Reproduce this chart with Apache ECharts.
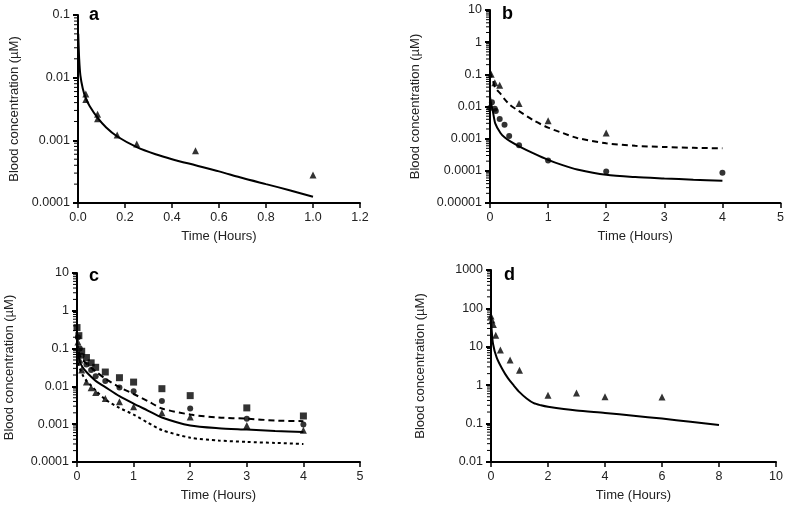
<!DOCTYPE html>
<html><head><meta charset="utf-8">
<script src="https://cdn.jsdelivr.net/npm/echarts@6/dist/echarts.min.js"></script>
<style>html,body{margin:0;padding:0;background:#fff}#c{width:787px;height:505px}</style>
</head><body><div id="c"></div>
<script>
// Panel a
const aObsT = [0.0333, 0.0333, 0.0833, 0.0833, 0.1667, 0.25, 0.5, 1.0];
const aObsC = [0.0055, 0.0045, 0.0026, 0.0022, 0.00122, 0.00087, 0.00068, 0.00028];
const aFitT = [0.001, 0.005, 0.01, 0.02, 0.033, 0.05, 0.083, 0.12, 0.167, 0.25, 0.33, 0.4, 0.5, 0.6, 0.7, 0.8, 0.9, 1.0];
const aFitC = [0.05, 0.02, 0.011, 0.0068, 0.0047, 0.0035, 0.0023, 0.0016, 0.00115, 0.00078, 0.0006, 0.0005, 0.0004, 0.00032, 0.00025, 0.0002, 0.00016, 0.000126];
// Panel b
const bTriT = [0.02, 0.083, 0.167, 0.5, 1, 2];
const bTriC = [0.1, 0.055, 0.046, 0.0125, 0.0036, 0.0015];
const bCirT = [0.0, 0.033, 0.083, 0.1, 0.167, 0.25, 0.33, 0.5, 1, 2, 4];
const bCirC = [0.009, 0.0135, 0.0085, 0.0072, 0.0041, 0.0027, 0.0012, 0.00062, 0.00021, 0.000095, 0.000087];
const bFitT = [0.0, 0.02, 0.05, 0.09, 0.18, 0.25, 0.35, 0.5, 0.75, 1, 1.25, 1.5, 2, 2.5, 3, 3.5, 4];
const bDashC = [0.12, 0.09, 0.065, 0.038, 0.025, 0.017, 0.011, 0.0072, 0.0037, 0.0022, 0.0015, 0.00105, 0.00072, 0.0006, 0.00055, 0.00052, 0.0005];
const bSolC = [0.02, 0.012, 0.007, 0.003, 0.0015, 0.0011, 0.00082, 0.00058, 0.00035, 0.00022, 0.00015, 0.00011, 0.000075, 0.000064, 0.000058, 0.000053, 0.000049];
// Panel c
const cSqT = [0.0, 0.033, 0.083, 0.167, 0.25, 0.33, 0.5, 0.75, 1, 1.5, 2, 3, 4];
const cSqC = [0.36, 0.22, 0.085, 0.058, 0.042, 0.032, 0.024, 0.017, 0.013, 0.0087, 0.0057, 0.0027, 0.00165];
const cCirT = [0.017, 0.05, 0.083, 0.167, 0.25, 0.33, 0.5, 0.75, 1, 1.5, 2, 3, 4];
const cCirC = [0.2, 0.1, 0.065, 0.038, 0.027, 0.0185, 0.014, 0.0093, 0.0074, 0.0041, 0.0026, 0.0014, 0.00098];
const cTriT = [0.017, 0.05, 0.083, 0.167, 0.25, 0.33, 0.5, 0.75, 1, 1.5, 2, 3, 4];
const cTriC = [0.15, 0.05, 0.027, 0.013, 0.0092, 0.0069, 0.0048, 0.0039, 0.0029, 0.002, 0.00155, 0.00093, 0.00069];
const cFitT = [0.0, 0.05, 0.1, 0.167, 0.25, 0.33, 0.5, 0.75, 1, 1.25, 1.5, 2, 2.5, 3, 3.5, 4];
const cDashC = [0.15, 0.065, 0.05, 0.04, 0.031, 0.025, 0.016, 0.0095, 0.0063, 0.0041, 0.0026, 0.0018, 0.0015, 0.0014, 0.00125, 0.0012];
const cSolC = [0.1, 0.045, 0.032, 0.024, 0.018, 0.014, 0.0096, 0.0055, 0.0035, 0.0023, 0.0015, 0.00092, 0.00078, 0.00072, 0.00066, 0.00062];
const cDotC = [0.06, 0.03, 0.02, 0.014, 0.0105, 0.0078, 0.0045, 0.0027, 0.0018, 0.0011, 0.0007, 0.00044, 0.00037, 0.00034, 0.00032, 0.0003];
// Panel d
const dTriT = [0.0, 0.033, 0.083, 0.167, 0.33, 0.67, 1, 2, 3, 4, 6];
const dTriC = [63, 50, 38, 20, 8.2, 4.5, 2.45, 0.55, 0.63, 0.5, 0.49];
const dFitT = [0.0, 0.02, 0.07, 0.2, 0.4, 0.6, 0.8, 1.0, 1.25, 1.5, 1.75, 2, 3, 4, 5, 6, 7, 8];
const dFitC = [60, 30, 12, 5.2, 2.6, 1.5, 0.98, 0.66, 0.45, 0.34, 0.3, 0.275, 0.22, 0.19, 0.16, 0.135, 0.112, 0.092];
// minor tick multiples within each decade of the log axes
const minorMults = [2, 3, 4, 5, 6, 7, 8, 9];

const FONT = 'Liberation Sans, Arial, sans-serif';
const zip = (xs, ys) => xs.map((x, i) => [x, ys[i]]);
const logFmt = v => v >= 1 ? String(Math.round(v)) : v.toFixed(Math.round(-Math.log10(v)));

const grids = [
  {left: 78, top: 15, width: 282, height: 188},
  {left: 490, top: 10, width: 291, height: 193},
  {left: 77, top: 273, width: 283, height: 189},
  {left: 491, top: 270, width: 285, height: 192}
];
const xCfg = [
  {max: 1.2, interval: 0.2, fmt: v => v.toFixed(1)},
  {max: 5, interval: 1, fmt: v => String(v)},
  {max: 5, interval: 1, fmt: v => String(v)},
  {max: 10, interval: 2, fmt: v => String(v)}
];
const yCfg = [[0.0001, 0.1], [0.00001, 10], [0.0001, 10], [0.01, 1000]];
const yNameGap = [57, 68, 61, 64];

const axisLine = {show: true, onZero: false, lineStyle: {color: '#000', width: 2}};
const xAxis = xCfg.map((c, i) => ({
  type: 'value', gridIndex: i, min: 0, max: c.max, interval: c.interval,
  name: 'Time (Hours)', nameLocation: 'middle', nameGap: 27,
  nameTextStyle: {fontFamily: FONT, fontSize: 13, color: '#222'},
  axisLine, axisTick: {show: true, inside: false, length: 5, lineStyle: {color: '#000', width: 1.5}},
  axisLabel: {fontFamily: FONT, fontSize: 12.5, color: '#222', margin: 8, formatter: c.fmt},
  splitLine: {show: false}
}));
const yAxis = yCfg.map((c, i) => ({
  type: 'log', logBase: 10, gridIndex: i, min: c[0], max: c[1],
  name: 'Blood concentration (µM)', nameLocation: 'middle', nameGap: yNameGap[i],
  nameTextStyle: {fontFamily: FONT, fontSize: 13, color: '#222'},
  axisLine, axisTick: {show: true, inside: false, length: 5, lineStyle: {color: '#000', width: 2}},
  axisLabel: {fontFamily: FONT, fontSize: 12.5, color: '#222', margin: 8, formatter: logFmt},
  splitLine: {show: false}
}));

const sc = (i, t, c, sym, size) => ({type: 'scatter', xAxisIndex: i, yAxisIndex: i, data: zip(t, c), symbol: sym, symbolSize: size, itemStyle: {color: '#000'}, z: 3});
const ln = (i, t, c, dash) => ({type: 'line', xAxisIndex: i, yAxisIndex: i, data: zip(t, c), symbol: 'none', smooth: 0.25, lineStyle: {color: '#000', width: 2, type: dash || 'solid'}, z: 2});

// minor ticks for the log axes, placed through the axis scale
const minorTicks = i => {
  const lo = Math.round(Math.log10(yCfg[i][0])), hi = Math.round(Math.log10(yCfg[i][1]));
  const vals = [];
  for (let d = lo; d < hi; d++) minorMults.forEach(m => vals.push([0, Number((m * Math.pow(10, d)).toPrecision(3))]));
  return {
    type: 'custom', xAxisIndex: i, yAxisIndex: i, data: vals, clip: false, silent: true, z: 5,
    renderItem: (params, api) => {
      const p = api.coord([0, api.value(1)]);
      return {type: 'line', shape: {x1: p[0] - 4, y1: p[1], x2: p[0], y2: p[1]}, style: {stroke: '#000', lineWidth: 1}};
    }
  };
};

const series = [
  ln(0, aFitT, aFitC), sc(0, aObsT, aObsC, 'triangle', 7),
  ln(1, bFitT, bDashC, [6, 4]), ln(1, bFitT, bSolC), sc(1, bTriT, bTriC, 'triangle', 7), sc(1, bCirT, bCirC, 'circle', 6),
  ln(2, cFitT, cDashC, [6, 4]), ln(2, cFitT, cSolC), ln(2, cFitT, cDotC, [3, 3]),
  sc(2, cSqT, cSqC, 'rect', 7), sc(2, cCirT, cCirC, 'circle', 6), sc(2, cTriT, cTriC, 'triangle', 7),
  ln(3, dFitT, dFitC), sc(3, dTriT, dTriC, 'triangle', 7),
  minorTicks(0), minorTicks(1), minorTicks(2), minorTicks(3)
];

const letters = ['a', 'b', 'c', 'd'];
const letterPos = [[89, 6], [502, 5], [89, 267], [504, 266]];
const title = letters.map((t, i) => ({text: t, left: letterPos[i][0], top: letterPos[i][1], padding: 0,
  textStyle: {fontFamily: FONT, fontSize: 18, fontWeight: 'bold', color: '#000'}}));

const chart = echarts.init(document.getElementById('c'), null, {renderer: 'canvas'});
chart.setOption({animation: false, backgroundColor: '#fff', title, grid: grids, xAxis, yAxis, series});
</script></body></html>
